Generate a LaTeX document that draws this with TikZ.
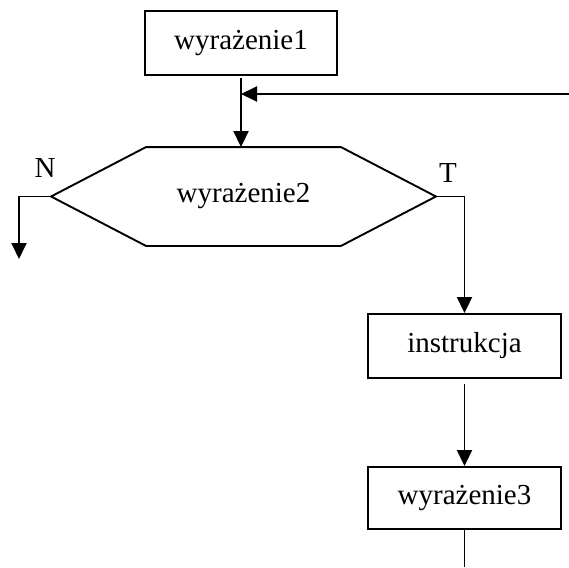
\documentclass[tikz,border=0pt]{standalone}
\usepackage{fontspec}
\setmainfont{Liberation Serif}
\usetikzlibrary{arrows.meta,calc}
\begin{document}
\begin{tikzpicture}[x=1pt,y=-1pt, line width=1.9pt,
  txt/.style={font=\fontsize{29}{33}\selectfont},
  box/.style={draw, rectangle, inner sep=0pt, txt},
  arr/.style={-{Triangle[length=16pt,width=15pt]}}]
\useasboundingbox (0,0) rectangle (569,567);
\node[box, minimum width=192pt, minimum height=64pt] (w1) at (241,43) {wyrażenie1};
\node[txt, inner sep=0pt, minimum width=383pt, minimum height=97pt] (w2) at (243.5,196.5) {wyrażenie2};
\draw (w2.west) -- ($(w2.north west)+(95,0)$) -- ($(w2.north east)+(-95,0)$) -- (w2.east)
      -- ($(w2.south east)+(-95,0)$) -- ($(w2.south west)+(95,0)$) -- cycle;
\node[box, minimum width=193pt, minimum height=64pt] (ins) at (464.5,346) {instrukcja};
\node[box, minimum width=193pt, minimum height=62pt] (w3) at (464.5,498) {wyrażenie3};
\node[txt, inner sep=0pt] (lN) at (45,168) {N};
\node[txt, inner sep=0pt] (lT) at (448,173) {T};
\coordinate (back) at (569,94);
\coordinate (nend) at (19,259);
\coordinate (out) at (464.5,567);
\draw[arr, shorten <=2pt] (w1.south) -- (w1.south |- w2.north);
\draw[arr] (back) -- (back -| w1.south);
\draw[arr] (w2.west) -| (nend);
\draw[arr] (w2.east) -| (ins.north);
\draw[arr, shorten <=5pt] (ins.south) -- (w3.north);
\draw (w3.south) -- (out);
\end{tikzpicture}
\end{document}
